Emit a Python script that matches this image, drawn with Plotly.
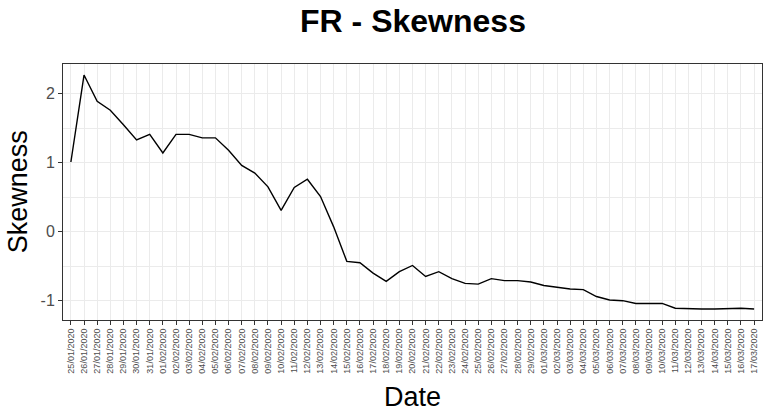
import plotly.graph_objects as go

dates = [
    "25/01/2020", "26/01/2020", "27/01/2020", "28/01/2020", "29/01/2020", "30/01/2020", "31/01/2020",
    "01/02/2020", "02/02/2020", "03/02/2020", "04/02/2020", "05/02/2020", "06/02/2020", "07/02/2020",
    "08/02/2020", "09/02/2020", "10/02/2020", "11/02/2020", "12/02/2020", "13/02/2020", "14/02/2020",
    "15/02/2020", "16/02/2020", "17/02/2020", "18/02/2020", "19/02/2020", "20/02/2020", "21/02/2020",
    "22/02/2020", "23/02/2020", "24/02/2020", "25/02/2020", "26/02/2020", "27/02/2020", "28/02/2020",
    "29/02/2020", "01/03/2020", "02/03/2020", "03/03/2020", "04/03/2020", "05/03/2020", "06/03/2020",
    "07/03/2020", "08/03/2020", "09/03/2020", "10/03/2020", "11/03/2020", "12/03/2020", "13/03/2020",
    "14/03/2020", "15/03/2020", "16/03/2020", "17/03/2020",
]
skewness = [
    1.01, 2.27, 1.89, 1.76, 1.55, 1.33, 1.41,
    1.14, 1.41, 1.41, 1.36, 1.36, 1.18, 0.96,
    0.85, 0.65, 0.31, 0.64, 0.76, 0.51, 0.07,
    -0.43, -0.45, -0.60, -0.72, -0.58, -0.49, -0.65,
    -0.58, -0.68, -0.75, -0.76, -0.68, -0.71, -0.71,
    -0.73, -0.78, -0.81, -0.83, -0.84, -0.94, -0.99,
    -1.00, -1.04, -1.04, -1.04, -1.11, -1.12, -1.12,
    -1.12, -1.11, -1.11, -1.12,
]
y_ticks = [-1, 0, 1, 2]

FONT = "Liberation Sans, Arial, sans-serif"
GRID = "#EBEBEB"
BORDER = "#333333"
TICKCOL = "#4D4D4D"

W, H = 770, 419

fig = go.Figure()
fig.add_trace(go.Scatter(
    x=dates, y=skewness, mode="lines",
    line=dict(color="black", width=1.4),
    showlegend=False, hoverinfo="x+y",
))

fig.update_layout(
    width=W, height=H, autosize=False,
    margin=dict(l=63, r=8, t=64, b=99, autoexpand=False),
    paper_bgcolor="white", plot_bgcolor="white",
    font=dict(family=FONT, color="black"),
    title=dict(text="<b>FR - Skewness</b>", x=413 / W, xanchor="center",
               y=1 - 21 / H, yanchor="middle",
               font=dict(size=32, family=FONT, color="black")),
    annotations=[
        dict(text="Date", xref="paper", yref="paper", x=0.5, y=-0.30,
             xanchor="center", yanchor="middle", showarrow=False,
             font=dict(size=27, family=FONT, color="black")),
        dict(text="Skewness", xref="paper", yref="paper", x=-0.064, y=0.5,
             xanchor="center", yanchor="middle", textangle=-90, showarrow=False,
             font=dict(size=27, family=FONT, color="black")),
    ],
)

fig.update_xaxes(
    type="category", categoryorder="array", categoryarray=dates,
    range=[-0.6, len(dates) - 0.4],
    showgrid=True, gridcolor=GRID, gridwidth=1.07,
    showline=True, linecolor=BORDER, linewidth=1, mirror=True,
    ticks="outside", ticklen=4, tickwidth=1, tickcolor=BORDER,
    tickangle=-90, tickfont=dict(size=9, family=FONT, color=TICKCOL),
    zeroline=False,
)
fig.update_yaxes(
    range=[-1.28, 2.43],
    tickmode="array", tickvals=y_ticks, ticktext=[str(v) for v in y_ticks],
    showgrid=True, gridcolor=GRID, gridwidth=1.07,
    minor=dict(tickmode="array", tickvals=[-0.5, 0.5, 1.5], showgrid=True,
               gridcolor=GRID, gridwidth=0.55, ticks=""),
    showline=True, linecolor=BORDER, linewidth=1, mirror=True,
    ticks="outside", ticklen=4, tickwidth=1, tickcolor=BORDER,
    tickfont=dict(size=16, family=FONT, color=TICKCOL),
    zeroline=False,
)

# remove the browser's default 8px body margin so the 770x419 figure fills the window
fig.write_html(
    "out.html",
    config={"displayModeBar": False},
    post_script="document.body.style.margin='0';document.body.style.overflow='hidden';",
)
